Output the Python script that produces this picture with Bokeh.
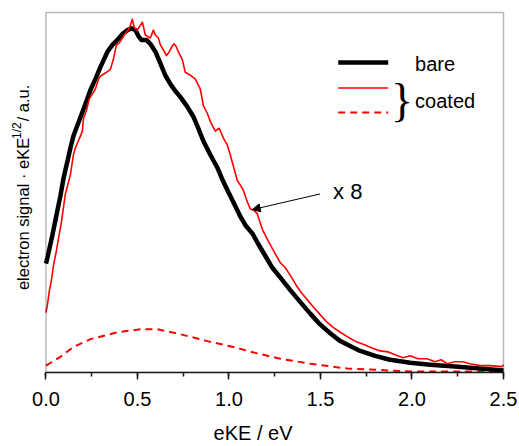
import math
from bokeh.plotting import figure
from bokeh.models import (Label, Arrow, NormalHead, SingleIntervalTicker, BoxAnnotation,
                          PrintfTickFormatter, Range1d)
from bokeh.embed import file_html
from bokeh.resources import INLINE

# ---------------- data (eKE in eV, signal in arbitrary units) ----------------
bare_x = [0.000, 0.008, 0.035, 0.057, 0.079, 0.096, 0.117, 0.134, 0.150, 0.172, 0.188, 0.216,
          0.243, 0.270, 0.297, 0.336, 0.363, 0.390, 0.418, 0.445, 0.467, 0.489, 0.505, 0.521,
          0.549, 0.570, 0.598, 0.625, 0.652, 0.680, 0.707, 0.734, 0.772, 0.805, 0.832, 0.860,
          0.898, 0.936, 0.963, 0.991, 1.023, 1.062, 1.094, 1.127, 1.160, 1.198, 1.236, 1.280,
          1.335, 1.389, 1.444, 1.498, 1.553, 1.608, 1.662, 1.717, 1.799, 1.880, 1.990, 2.099,
          2.235, 2.372, 2.500]
bare_y = [111, 117, 140, 160, 180, 198, 215, 229, 241, 252, 260, 274,
          288, 299, 311, 327, 334, 339, 345, 349, 351, 349, 343, 339,
          339, 335, 327, 315, 303, 294, 287, 281, 271, 261, 249, 236,
          222, 209, 197, 186, 174, 159, 149, 142, 131, 119, 107, 97,
          84, 72, 60, 49, 40, 32, 27, 22, 17, 13, 10, 8,
          6, 4, 2]

coated_x = [0.000, 0.008, 0.019, 0.030, 0.041, 0.057, 0.068, 0.085, 0.106, 0.123, 0.134, 0.150,
            0.161, 0.172, 0.188, 0.199, 0.205, 0.221, 0.237, 0.254, 0.270, 0.287, 0.297, 0.314,
            0.330, 0.352, 0.368, 0.385, 0.401, 0.418, 0.434, 0.450, 0.461, 0.472, 0.483, 0.499,
            0.516, 0.527, 0.543, 0.560, 0.570, 0.587, 0.598, 0.614, 0.625, 0.641, 0.658, 0.674,
            0.690, 0.701, 0.712, 0.723, 0.745, 0.761, 0.789, 0.816, 0.843, 0.860, 0.882, 0.898,
            0.925, 0.947, 0.969, 0.991, 1.007, 1.029, 1.045, 1.062, 1.078, 1.100, 1.116, 1.138,
            1.154, 1.182, 1.215, 1.253, 1.280, 1.307, 1.335, 1.367, 1.389, 1.406, 1.433, 1.460,
            1.498, 1.537, 1.569, 1.608, 1.651, 1.700, 1.744, 1.782, 1.826, 1.870, 1.908, 1.951,
            1.990, 2.033, 2.082, 2.126, 2.159, 2.192, 2.235, 2.279, 2.317, 2.372, 2.426, 2.492,
            2.500]
coated_y = [61, 69, 84, 94, 109, 124, 136, 154, 182, 194, 202, 222,
            229, 234, 241, 246, 259, 267, 279, 284, 289, 299, 302, 304,
            306, 309, 319, 334, 336, 341, 346, 349, 354, 360, 351, 349,
            354, 357, 344, 342, 341, 349, 344, 341, 334, 329, 323, 327,
            333, 335, 332, 327, 319, 306, 303, 299, 289, 272, 264, 256,
            246, 249, 239, 232, 222, 207, 196, 191, 186, 174, 167, 165,
            162, 146, 134, 121, 112, 107, 99, 89, 83, 79, 73, 67,
            59, 51, 46, 41, 36, 31, 28, 25, 22, 21, 18, 15,
            17, 14, 14, 11, 13, 9, 11, 11, 9, 7, 7, 6,
            8]

coated_raw_x = [0.000, 0.079, 0.150, 0.243, 0.390, 0.516, 0.609, 0.734, 0.882, 1.023,
                1.144, 1.280, 1.444, 1.646, 2.006, 2.500]
coated_raw_y = [7, 16, 26, 34, 41, 44, 44, 39, 32, 26,
                20, 14, 9, 4, 1, 1]

x_min, x_max = 0.0, 2.5
y_min, y_max = 0, 367
x_ticks_interval = 0.5
x_label = "eKE / eV"
scale_note = "x 8"

FONT = "Liberation Sans"
INK = "#1a1a1a"

p = figure(width=519, height=446,
           x_range=Range1d(-0.2484, 2.5109), y_range=Range1d(0, 369),
           output_backend="svg", toolbar_location=None, y_axis_location=None,
           min_border_left=0, min_border_right=14, min_border_top=10, min_border_bottom=67)
p.background_fill_color = "white"
p.border_fill_color = "white"
p.grid.visible = False
p.outline_line_color = None

# plot box (frame of the data area)
p.add_layout(BoxAnnotation(left=x_min, right=x_max, bottom=y_min, top=y_max,
                           fill_alpha=0, line_color=INK, line_width=1.5))

ax = p.xaxis[0]
ax.bounds = (x_min, x_max)
ax.ticker = SingleIntervalTicker(interval=x_ticks_interval, num_minor_ticks=2)
ax.formatter = PrintfTickFormatter(format="%.1f")
ax.axis_line_color = INK
ax.axis_line_width = 1.5
ax.major_tick_line_color = INK
ax.major_tick_line_width = 1.5
ax.minor_tick_line_color = INK
ax.minor_tick_line_width = 1.5
ax.major_tick_in = 0
ax.major_tick_out = 7
ax.minor_tick_in = 0
ax.minor_tick_out = 4
ax.major_label_text_font = FONT
ax.major_label_text_font_size = "20px"
ax.major_label_text_color = "black"
ax.major_label_standoff = 12
ax.axis_label = x_label
ax.axis_label_text_font = FONT
ax.axis_label_text_font_size = "20px"
ax.axis_label_text_font_style = "normal"
ax.axis_label_text_color = "black"
ax.axis_label_standoff = 13

p.line(coated_raw_x, coated_raw_y, line_color="red", line_width=2, line_dash="7 5")
p.line(bare_x, bare_y, line_color="black", line_width=4.5, line_join="round")
p.line(coated_x, coated_y, line_color="red", line_width=1.6, line_join="round")

# y-axis label (with superscript), drawn as rotated text
ylab_kw = dict(angle=math.pi / 2, text_font=FONT, text_color="black",
               text_align="left", text_baseline="middle")
p.add_layout(Label(x=-0.126, y=84, text="electron signal · eKE", text_font_size="16.5px", **ylab_kw))
p.add_layout(Label(x=-0.157, y=238, text="1/2", text_font_size="12px", **ylab_kw))
p.add_layout(Label(x=-0.126, y=256, text=" / a.u.", text_font_size="16.5px", **ylab_kw))

# legend
p.add_layout(Arrow(x_start=1.597, y_start=316, x_end=1.870, y_end=316, end=None,
                   line_color="black", line_width=4.5))
p.add_layout(Arrow(x_start=1.597, y_start=290, x_end=1.870, y_end=290, end=None,
                   line_color="red", line_width=1.6))
p.add_layout(Arrow(x_start=1.597, y_start=265, x_end=1.870, y_end=265, end=None,
                   line_color="red", line_width=2, line_dash="7 5"))
leg_kw = dict(text_font=FONT, text_font_size="20px", text_color="black",
              text_align="left", text_baseline="middle")
p.add_layout(Label(x=2.017, y=314, text="bare", **leg_kw))
p.add_layout(Label(x=2.017, y=277, text="coated", **leg_kw))
p.add_layout(Label(x=1.946, y=277, text="}", text_font="Liberation Serif", text_font_size="46px",
                   text_color="black", text_align="center", text_baseline="middle"))

# scaling annotation
p.add_layout(Arrow(x_start=1.498, y_start=182, x_end=1.127, y_end=166,
                   end=NormalHead(size=8, fill_color="black", line_color="black", line_width=1),
                   line_color="black", line_width=1))
p.add_layout(Label(x=1.569, y=184, text=scale_note, text_font=FONT, text_font_size="22px",
                   text_color="black", text_align="left", text_baseline="middle"))

open("out.html", "w").write(file_html(p, INLINE))
